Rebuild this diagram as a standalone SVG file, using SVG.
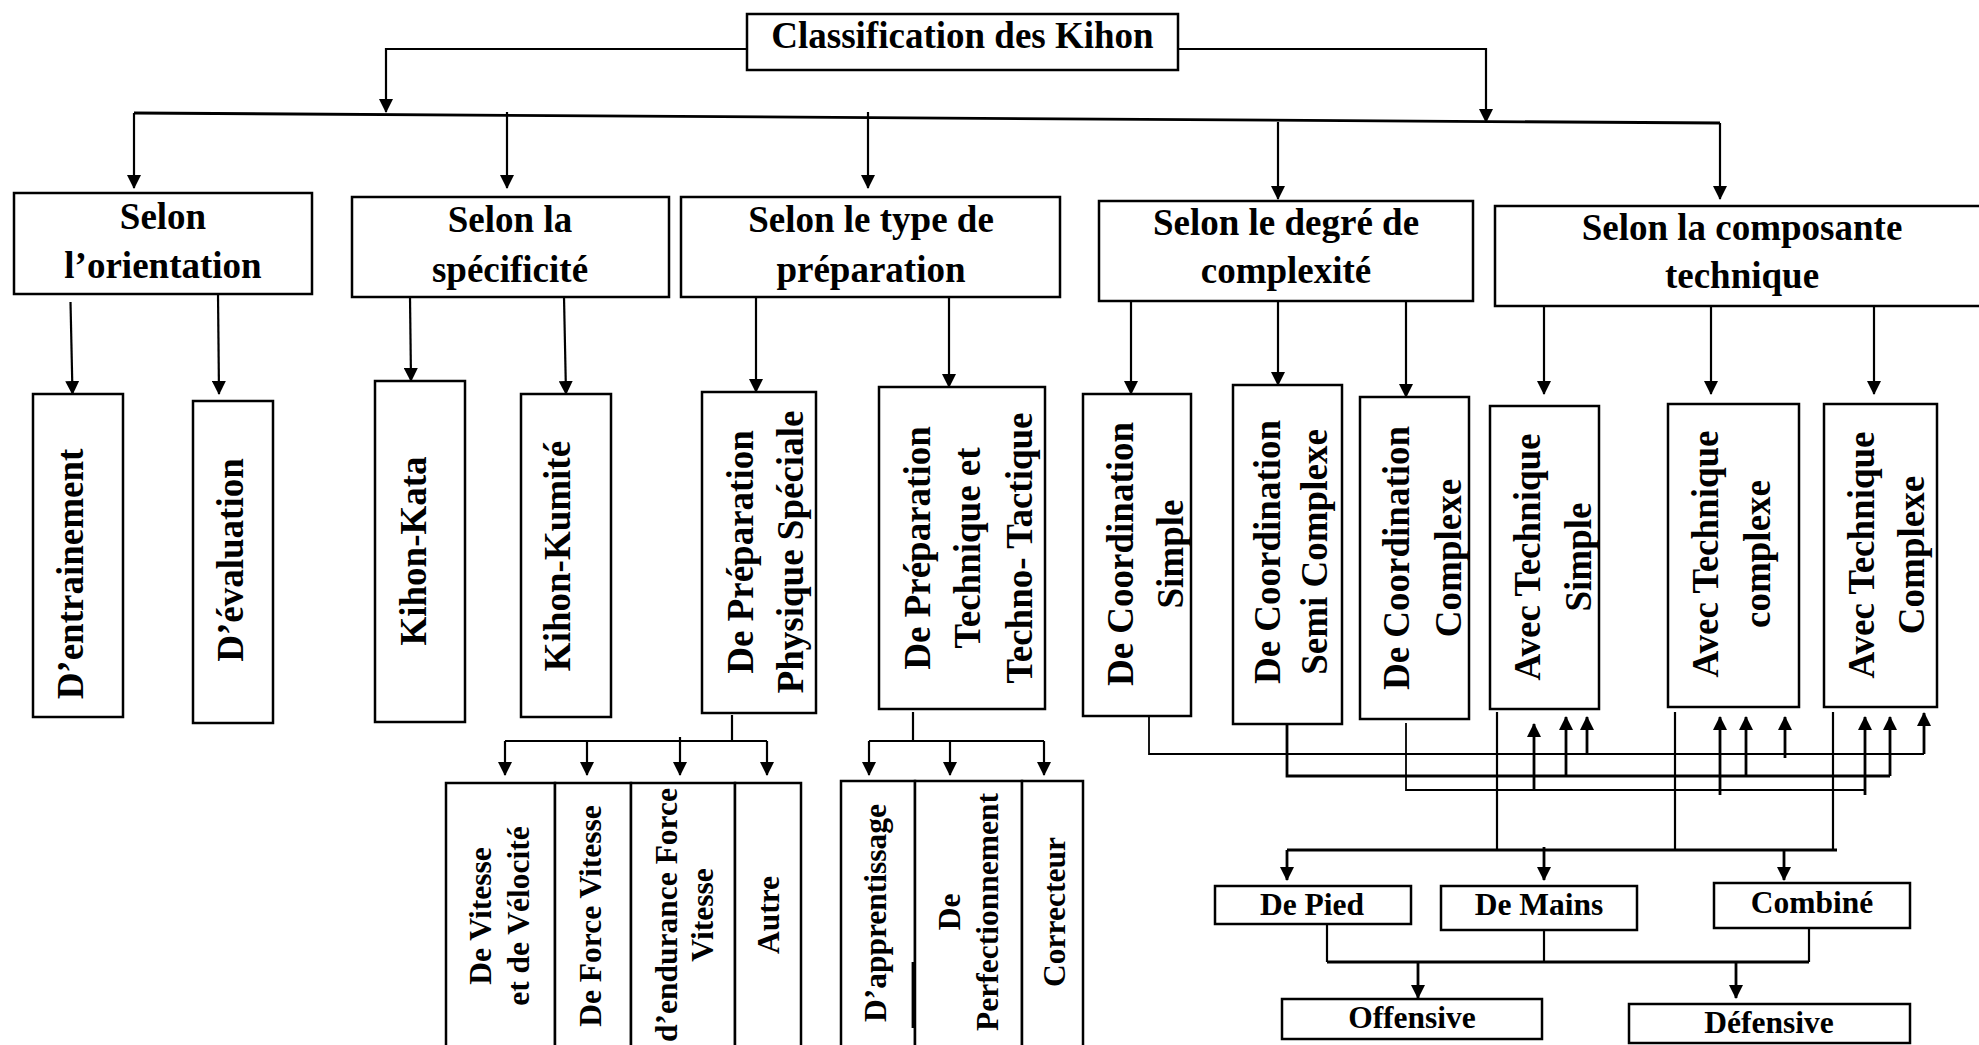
<svg xmlns="http://www.w3.org/2000/svg" width="1979" height="1045" viewBox="0 0 1979 1045">
  <style>
    .box { fill: #fff; stroke: #000; stroke-width: 2.5; }
    .t { font-family: "Liberation Serif", "Times New Roman", serif; font-weight: bold; text-anchor: middle; fill: #000; }
    .h { font-size: 37px; }
    .s { font-size: 31.5px; }
    .ln { fill: none; stroke: #000; stroke-width: 2.2; }
    .thin { stroke-width: 1.8; }
    .thick { stroke-width: 2.8; }
    .ar { marker-end: url(#ah); }
  </style>
  <defs>
    <marker id="ah" viewBox="0 0 14 14" refX="13" refY="7" markerWidth="14" markerHeight="14" markerUnits="userSpaceOnUse" orient="auto">
      <path d="M0,0 L14,7 L0,14 z" fill="#000"/>
    </marker>
  </defs>
  <rect width="1979" height="1045" fill="#fff"/>

  <!-- connectors -->
  <g id="connectors">
    <!-- root to first level -->
    <path class="ln ar" d="M747,49 H386 V112"/>
    <path class="ln ar" d="M1178,49 H1486 V122"/>
    <path class="ln thick" d="M134,113 L1720,123"/>
    <path class="ln ar" d="M134,113 V188"/>
    <path class="ln ar" d="M1720,123 V199"/>
    <path class="ln ar" d="M507,112 V188"/>
    <path class="ln ar" d="M868,112 V188"/>
    <path class="ln ar" d="M1278,122 V199"/>

    <!-- first level to second level -->
    <path class="ln ar" d="M70.5,302 L72.5,394"/>
    <path class="ln ar" d="M218,294 L219,394"/>
    <path class="ln ar" d="M410,297 L411,381"/>
    <path class="ln ar" d="M564,297 L566,394"/>
    <path class="ln ar" d="M756,297 V392"/>
    <path class="ln ar" d="M949,297 V387"/>
    <path class="ln ar" d="M1131,301 V394"/>
    <path class="ln ar" d="M1278,301 V385"/>
    <path class="ln ar" d="M1406,301 V397"/>
    <path class="ln ar" d="M1544,306 V394"/>
    <path class="ln ar" d="M1711,306 V394"/>
    <path class="ln ar" d="M1874,306 V394"/>

    <!-- physical preparation split -->
    <path class="ln" d="M732,715 V741"/>
    <path class="ln" d="M505,741 H767"/>
    <path class="ln ar" d="M505,741 V775"/>
    <path class="ln ar" d="M587,741 V775"/>
    <path class="ln ar" d="M680,737 V775"/>
    <path class="ln ar" d="M767,741 V775"/>

    <!-- technical preparation split -->
    <path class="ln" d="M913,712 V741"/>
    <path class="ln" d="M869,741 H1044"/>
    <path class="ln ar" d="M869,741 V775"/>
    <path class="ln ar" d="M950,741 V775"/>
    <path class="ln ar" d="M1044,741 V775"/>

    <!-- coordination to technique links -->
    <path class="ln thin" d="M1149,716 V754 H1924"/>
    <path class="ln thick ar" d="M1587,754 V717"/>
    <path class="ln thick ar" d="M1924,754 V713"/>
    <path class="ln thick ar" d="M1785,758 V717"/>

    <path class="ln thick" d="M1287,725 V776 H1890"/>
    <path class="ln thick ar" d="M1566,776 V717"/>
    <path class="ln thick ar" d="M1746,776 V717"/>
    <path class="ln thick ar" d="M1890,776 V717"/>

    <path class="ln thin" d="M1406,723 V790 H1865"/>
    <path class="ln thick ar" d="M1534,790 V724"/>
    <path class="ln thick ar" d="M1720,795 V717"/>
    <path class="ln thick ar" d="M1865,795 V717"/>

    <!-- technique to limb type -->
    <path class="ln" d="M1497,712 V850"/>
    <path class="ln" d="M1675,712 V850"/>
    <path class="ln" d="M1833,712 V850"/>
    <path class="ln thick" d="M1287,850 H1837"/>
    <path class="ln thick ar" d="M1287,850 V880"/>
    <path class="ln thick ar" d="M1544,847 V880"/>
    <path class="ln thick ar" d="M1784,850 V880"/>

    <!-- limb type to tactical aim -->
    <path class="ln" d="M1327,924 V962"/>
    <path class="ln" d="M1544,930 V962"/>
    <path class="ln" d="M1809,928 V962"/>
    <path class="ln thick" d="M1327,962 H1809"/>
    <path class="ln thick ar" d="M1418,962 V998"/>
    <path class="ln thick ar" d="M1736,962 V998"/>
  </g>

  <!-- root -->
  <g id="n-root">
    <rect class="box" x="747" y="14" width="431" height="56"/>
    <text class="t h" x="962.5" y="48">Classification des Kihon</text>
  </g>

  <!-- first level -->
  <g id="n-orientation">
    <rect class="box" x="14" y="193" width="298" height="101"/>
    <text class="t h" x="163" y="229">Selon</text>
    <text class="t h" x="163" y="278">l’orientation</text>
  </g>
  <g id="n-specificite">
    <rect class="box" x="352" y="197" width="317" height="100"/>
    <text class="t h" x="510" y="232">Selon la</text>
    <text class="t h" x="510" y="282">spécificité</text>
  </g>
  <g id="n-preparation">
    <rect class="box" x="681" y="197" width="379" height="100"/>
    <text class="t h" x="871" y="232">Selon le type de</text>
    <text class="t h" x="871" y="282">préparation</text>
  </g>
  <g id="n-complexite">
    <rect class="box" x="1099" y="201" width="374" height="100"/>
    <text class="t h" x="1286" y="235">Selon le degré de</text>
    <text class="t h" x="1286" y="283">complexité</text>
  </g>
  <g id="n-composante">
    <rect class="box" x="1495" y="206" width="500" height="100"/>
    <text class="t h" x="1742" y="240">Selon la composante</text>
    <text class="t h" x="1742" y="288">technique</text>
  </g>

  <!-- second level (vertical labels) -->
  <g id="n-entrainement">
    <rect class="box" x="33" y="394" width="90" height="323"/>
    <text class="t h" transform="translate(83,574) rotate(-90)">D’entrainement</text>
  </g>
  <g id="n-evaluation">
    <rect class="box" x="193" y="401" width="80" height="322"/>
    <text class="t h" transform="translate(243,560) rotate(-90)">D’évaluation</text>
  </g>
  <g id="n-kata">
    <rect class="box" x="375" y="381" width="90" height="341"/>
    <text class="t h" transform="translate(426,551) rotate(-90)">Kihon-Kata</text>
  </g>
  <g id="n-kumite">
    <rect class="box" x="521" y="394" width="90" height="323"/>
    <text class="t h" transform="translate(570,556) rotate(-90)">Kihon-Kumité</text>
  </g>
  <g id="n-physique">
    <rect class="box" x="702" y="392" width="114" height="321"/>
    <text class="t h" transform="translate(753,552) rotate(-90)">De Préparation<tspan x="0" dy="50">Physique Spéciale</tspan></text>
  </g>
  <g id="n-technique">
    <rect class="box" x="879" y="387" width="166" height="322"/>
    <text class="t h" transform="translate(930,548) rotate(-90)">De Préparation<tspan x="0" dy="50">Technique et</tspan><tspan x="0" dy="52">Techno- Tactique</tspan></text>
  </g>
  <g id="n-coord-simple">
    <rect class="box" x="1083" y="394" width="108" height="322"/>
    <text class="t h" transform="translate(1133,554) rotate(-90)">De Coordination<tspan x="0" dy="50">Simple</tspan></text>
  </g>
  <g id="n-coord-semi">
    <rect class="box" x="1233" y="385" width="109" height="339"/>
    <text class="t h" transform="translate(1280,552) rotate(-90)">De Coordination<tspan x="0" dy="47">Semi Complexe</tspan></text>
  </g>
  <g id="n-coord-complexe">
    <rect class="box" x="1360" y="397" width="109" height="322"/>
    <text class="t h" transform="translate(1409,558) rotate(-90)">De Coordination<tspan x="0" dy="52">Complexe</tspan></text>
  </g>
  <g id="n-tech-simple">
    <rect class="box" x="1490" y="406" width="109" height="303"/>
    <text class="t h" transform="translate(1540,557) rotate(-90)">Avec Technique<tspan x="0" dy="51">Simple</tspan></text>
  </g>
  <g id="n-tech-complexe-1">
    <rect class="box" x="1668" y="404" width="131" height="303"/>
    <text class="t h" transform="translate(1718,554) rotate(-90)">Avec Technique<tspan x="0" dy="52">complexe</tspan></text>
  </g>
  <g id="n-tech-complexe-2">
    <rect class="box" x="1824" y="404" width="113" height="303"/>
    <text class="t h" transform="translate(1874,555) rotate(-90)">Avec Technique<tspan x="0" dy="50">Complexe</tspan></text>
  </g>

  <!-- physical preparation kinds -->
  <g id="n-velocite">
    <rect class="box" x="446" y="783" width="109" height="290"/>
    <text class="t s" transform="translate(491,916) rotate(-90)">De Vitesse<tspan x="0" dy="38">et de Vélocité</tspan></text>
  </g>
  <g id="n-force-vitesse">
    <rect class="box" x="555" y="783" width="76" height="290"/>
    <text class="t s" transform="translate(601,916) rotate(-90)">De Force Vitesse</text>
  </g>
  <g id="n-endurance">
    <rect class="box" x="631" y="783" width="104" height="290"/>
    <text class="t s" transform="translate(677,915) rotate(-90)">d’endurance Force<tspan x="0" dy="36">Vitesse</tspan></text>
  </g>
  <g id="n-autre">
    <rect class="box" x="735" y="783" width="66" height="290"/>
    <text class="t s" transform="translate(779,915) rotate(-90)">Autre</text>
  </g>

  <!-- technical preparation kinds -->
  <g id="n-apprentissage">
    <rect class="box" x="841" y="781" width="74" height="290"/>
    <text class="t s" transform="translate(886,913) rotate(-90)">D’apprentissage</text>
    <path class="ln thick" d="M913,962 V1028"/>
  </g>
  <g id="n-perfectionnement">
    <rect class="box" x="915" y="781" width="107" height="290"/>
    <text class="t s" transform="translate(960,912) rotate(-90)">De<tspan x="0" dy="38">Perfectionnement</tspan></text>
  </g>
  <g id="n-correcteur">
    <rect class="box" x="1022" y="781" width="61" height="290"/>
    <text class="t s" transform="translate(1065,912) rotate(-90)">Correcteur</text>
  </g>

  <!-- limb type -->
  <g id="n-pied">
    <rect class="box" x="1215" y="886" width="196" height="38"/>
    <text class="t s" x="1312" y="915">De Pied</text>
  </g>
  <g id="n-mains">
    <rect class="box" x="1441" y="886" width="196" height="44"/>
    <text class="t s" x="1539" y="915">De Mains</text>
  </g>
  <g id="n-combine">
    <rect class="box" x="1714" y="883" width="196" height="45"/>
    <text class="t s" x="1812" y="913">Combiné</text>
  </g>

  <!-- tactical aim -->
  <g id="n-offensive">
    <rect class="box" x="1282" y="999" width="260" height="40"/>
    <text class="t s" x="1412" y="1028">Offensive</text>
  </g>
  <g id="n-defensive">
    <rect class="box" x="1629" y="1004" width="281" height="39"/>
    <text class="t s" x="1769" y="1033">Défensive</text>
  </g>
</svg>
